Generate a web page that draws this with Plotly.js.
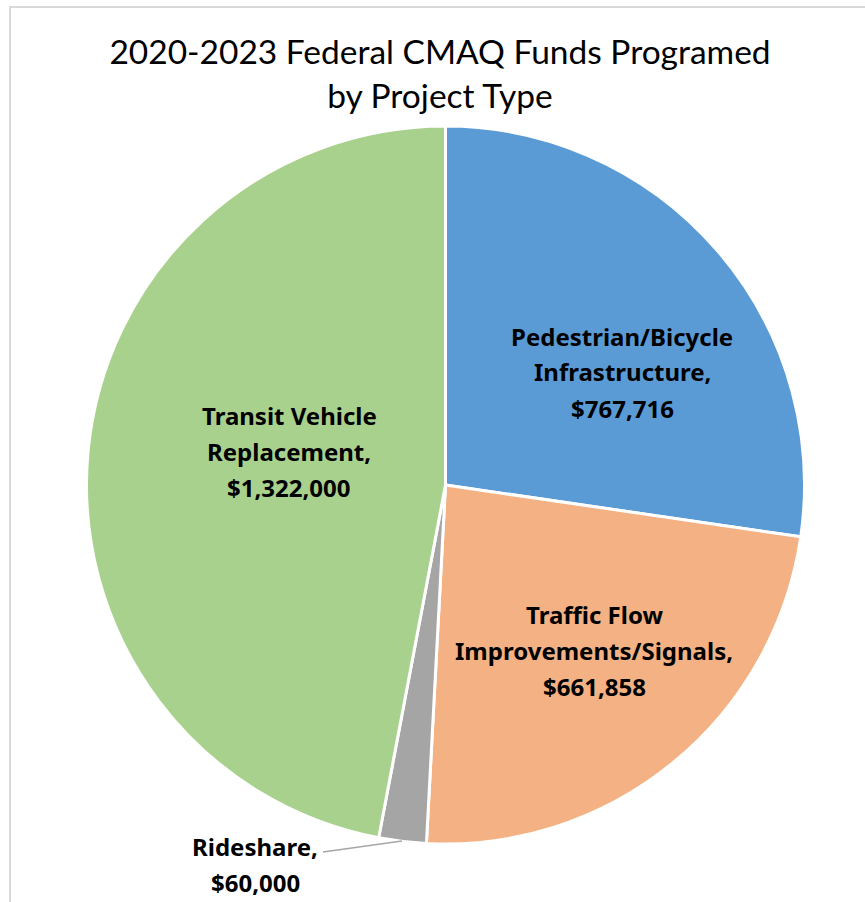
<!DOCTYPE html>
<html>
<head>
<meta charset="utf-8">
<script src="https://cdn.plot.ly/plotly-3.0.1.min.js"></script>
<style>
  html, body { margin: 0; padding: 0; background: #ffffff; }
  #wrap { position: relative; width: 865px; height: 902px; overflow: hidden; }
  #chart { position: absolute; left: 0; top: 0; width: 865px; height: 902px; }
  #frame { position: absolute; left: 9px; top: 6px; width: 900px; height: 950px;
           border-left: 2px solid #d9d9d9; border-top: 2px solid #d9d9d9; pointer-events: none; }
</style>
</head>
<body>
<div id="wrap">
  <div id="chart"></div>
  <div id="frame"></div>
</div>
<script>
// ---- data ----
const categories = ["Pedestrian/Bicycle Infrastructure", "Traffic Flow Improvements/Signals", "Rideshare", "Transit Vehicle Replacement"];
const values = [767716, 661858, 60000, 1322000];
const labelLines = [
  ["Pedestrian/Bicycle", "Infrastructure,", "$767,716"],
  ["Traffic Flow", "Improvements/Signals,", "$661,858"],
  ["Rideshare,", "$60,000"],
  ["Transit Vehicle", "Replacement,", "$1,322,000"]
];
const colors = ["#5B9BD5", "#F4B183", "#A5A5A5", "#A9D18E"];

// ---- layout helpers (pixel -> paper) ----
const W = 865, H = 902;
const px = x => x / W;
const py = y => 1 - y / H;

// label block centres (pixels) and line spacing
const labelCentres = [[622, 372], [594, 650], [255, 864], [289, 451]];
const lineGap = 36;

const annotations = [];
labelLines.forEach((lines, i) => {
  const [cx, cy] = labelCentres[i];
  const n = lines.length;
  lines.forEach((t, j) => {
    const yy = cy + (j - (n - 1) / 2) * lineGap;
    annotations.push({
      text: t, xref: "paper", yref: "paper",
      x: px(cx), y: py(yy), xanchor: "center", yanchor: "middle",
      showarrow: false,
      font: { family: "'Noto Sans', 'Open Sans', sans-serif", size: 24, color: "#000000", weight: "bold" }
    });
  });
});

const cxPie = 445.5, cyPie = 485, rPie = 359;

const data = [{
  type: "pie",
  labels: categories,
  values: values,
  sort: false,
  direction: "clockwise",
  rotation: 0,
  textinfo: "none",
  hoverinfo: "label+value",
  marker: { colors: colors, line: { color: "#ffffff", width: 3 } },
  domain: { x: [px(cxPie - rPie), px(cxPie + rPie)], y: [py(cyPie + rPie), py(cyPie - rPie)] },
  showlegend: false
}];

const layout = {
  width: W, height: H,
  margin: { l: 0, r: 0, t: 0, b: 0 },
  paper_bgcolor: "#ffffff",
  title: {
    text: "2020-2023 Federal CMAQ Funds Programed<br>by Project Type",
    x: px(440), xanchor: "center", xref: "paper",
    y: py(64), yanchor: "top", yref: "container",
    font: { family: "Lato, 'Open Sans', sans-serif", size: 33.5, color: "#000000" }
  },
  annotations: annotations,
  shapes: [{
    type: "line", xref: "paper", yref: "paper",
    x0: px(323), y0: py(852), x1: px(402), y1: py(841),
    line: { color: "#a6a6a6", width: 1.5 }
  }]
};

Plotly.newPlot("chart", data, layout, { displayModeBar: false, staticPlot: true });
</script>
</body>
</html>
